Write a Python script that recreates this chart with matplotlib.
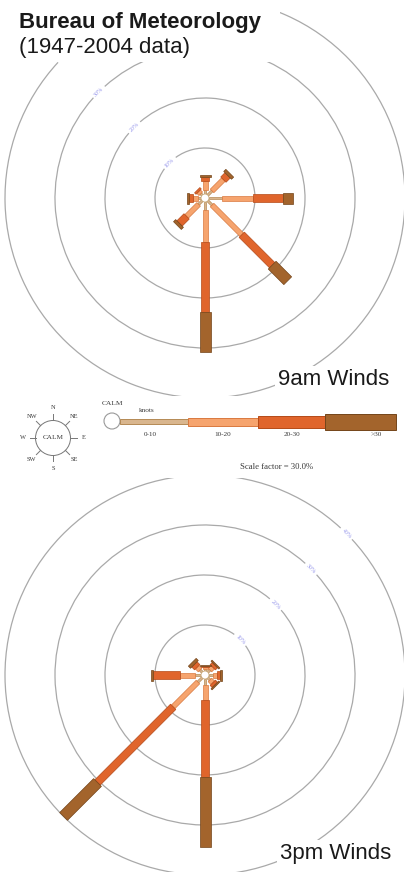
import numpy as np
import matplotlib
matplotlib.use('Agg')
import matplotlib.pyplot as plt
from matplotlib.patches import Polygon, Circle, Arc, Rectangle

# ---------------- data ----------------
directions = ['N', 'NE', 'E', 'SE', 'S', 'SW', 'W', 'NW']
dir_angles = [0, 45, 90, 135, 180, 225, 270, 315]          # compass degrees
speed_classes = ['0-10', '10-20', '20-30', '>30']           # knots

# 9am winds: % of observations per direction and speed class
am_0_10  = [0.8, 1.2, 2.6, 1.2, 1.6, 1.0, 0.6, 0.4]
am_10_20 = [1.8, 3.2, 6.2, 8.4, 6.4, 3.4, 1.0, 0.6]
am_20_30 = [0.8, 1.2, 6.0, 8.6, 14.0, 2.0, 0.8, 0.4]
am_gt30  = [0.4, 0.6, 2.0, 4.4, 8.0, 0.6, 0.4, 0.0]

# 3pm winds
pm_0_10  = [0.4, 0.6, 0.8, 0.6, 1.2, 1.2, 1.2, 0.6]
pm_10_20 = [0.4, 0.8, 0.8, 0.8, 3.0, 7.0, 3.0, 0.8]
pm_20_30 = [0.2, 0.6, 0.6, 0.6, 15.4, 21.4, 5.4, 0.8]
pm_gt30  = [0.2, 0.3, 0.4, 0.3, 14.0, 9.6, 0.4, 0.6]

ring_levels = [10, 20, 30, 40]
ring_labels = ['10%', '20%', '30%', '40%']
scale_text = 'Scale factor = 30.0%'

# ---------------- style ----------------
W_PX, H_PX = 404, 872
PX_PER_PCT = 5.0
fills = ['#d9b68e', '#f6a46e', '#e0652c', '#a3642c']
edges = ['#b58a55', '#d9793f', '#b54a18', '#74451a']
widths_pct = [0.45, 1.0, 1.5, 2.2]
calm_r = 0.8
ring_color = '#a9a9a9'
label_color = '#7b7be6'
txt_color = '#3a3a3a'

fig = plt.figure(figsize=(W_PX / 100, H_PX / 100), dpi=100)
fig.patch.set_facecolor('white')


def px_axes(top_px, bottom_px):
    return fig.add_axes([0, 1 - bottom_px / H_PX, 1, (bottom_px - top_px) / H_PX])


def draw_rose(ax, cx_px, cy_px, top_px, bottom_px, series, label_angle):
    ax.set_xlim(-cx_px / PX_PER_PCT, (W_PX - cx_px) / PX_PER_PCT)
    ax.set_ylim(-(bottom_px - cy_px) / PX_PER_PCT, (cy_px - top_px) / PX_PER_PCT)
    ax.axis('off')
    # rings with label gaps
    for lev, lab in zip(ring_levels, ring_labels):
        gap = np.degrees(8.0 / (lev * PX_PER_PCT))
        ax.add_patch(Arc((0, 0), 2 * lev, 2 * lev, theta1=label_angle + gap,
                         theta2=label_angle + 360 - gap, color=ring_color, lw=0.9))
        a = np.radians(label_angle)
        ax.text(lev * np.cos(a), lev * np.sin(a), lab, color=label_color,
                fontsize=4.2, ha='center', va='center', alpha=0.8,
                rotation=label_angle - 90, family='Liberation Serif')
    # bars
    for i, ang in enumerate(dir_angles):
        t = np.radians(ang)
        u = np.array([np.sin(t), np.cos(t)])
        p = np.array([-u[1], u[0]])
        r0 = calm_r
        for k in range(4):
            val = series[k][i]
            if val <= 0:
                continue
            r1 = r0 + val
            hw = widths_pct[k] / 2
            pts = [u * r0 + p * hw, u * r1 + p * hw, u * r1 - p * hw, u * r0 - p * hw]
            ax.add_patch(Polygon(pts, closed=True, facecolor=fills[k],
                                 edgecolor=edges[k], lw=0.5, zorder=3 + k))
            r0 = r1
    ax.add_patch(Circle((0, 0), calm_r, facecolor='white', edgecolor='#c8a878',
                        lw=0.6, zorder=10))


# top rose (9am)
ax_am = px_axes(0, 396)
draw_rose(ax_am, 205, 198, 0, 396, [am_0_10, am_10_20, am_20_30, am_gt30], 135)

# bottom rose (3pm)
ax_pm = px_axes(478, 872)
draw_rose(ax_pm, 205, 675, 478, 872, [pm_0_10, pm_10_20, pm_20_30, pm_gt30], 45)

# legend strip (pixel coordinates)
ax_lg = px_axes(396, 478)
ax_lg.set_xlim(0, W_PX)
ax_lg.set_ylim(478, 396)
ax_lg.axis('off')

# compass key
ccx, ccy, cr = 53, 438, 17.5
ax_lg.add_patch(Circle((ccx, ccy), cr, facecolor='white', edgecolor='#777777', lw=0.7))
ax_lg.text(ccx, ccy, 'CALM', fontsize=5.2, ha='center', va='center',
           family='Liberation Serif', color=txt_color)
for d, ang in zip(directions, dir_angles):
    t = np.radians(ang)
    sx, sy = np.sin(t), -np.cos(t)
    ax_lg.plot([ccx + sx * cr, ccx + sx * (cr + 6)], [ccy + sy * cr, ccy + sy * (cr + 6)],
               color='#777777', lw=0.7)
    rr = 30.5 if ang % 90 == 0 else 30
    ax_lg.text(ccx + sx * rr, ccy + sy * rr, d, fontsize=4.6, ha='center', va='center',
               family='Liberation Serif', color=txt_color)

# calm circle and speed bar
ax_lg.add_patch(Circle((112, 421), 8, facecolor='white', edgecolor='#999999', lw=0.8))
ax_lg.text(112, 404, 'CALM', fontsize=5.4, ha='center', va='center',
           family='Liberation Serif', color=txt_color)
ax_lg.text(147, 411, 'knots', fontsize=5.2, ha='center', va='center',
           family='Liberation Serif', color=txt_color)
seg_edges_px = [120, 188, 258, 325, 396]
seg_heights_px = [5, 8, 12, 16]
seg_label_x = [150, 223, 292, 376]
for k, lab in enumerate(speed_classes):
    x0, x1 = seg_edges_px[k], seg_edges_px[k + 1]
    h = seg_heights_px[k]
    ax_lg.add_patch(Rectangle((x0, 422 - h / 2), x1 - x0, h, facecolor=fills[k],
                              edgecolor=edges[k], lw=0.7))
    ax_lg.text(seg_label_x[k], 435, lab, fontsize=5.2, ha='center', va='center',
               family='Liberation Serif', color=txt_color)
ax_lg.text(277, 467, scale_text, fontsize=6.2, ha='center', va='center',
           family='Liberation Serif', color=txt_color)

# titles
fig.add_artist(Rectangle((0, 1 - 62 / H_PX), 280 / W_PX, 62 / H_PX,
                         transform=fig.transFigure, facecolor='white',
                         edgecolor='none', zorder=20))
fig.text(19 / W_PX, 1 - 28 / H_PX, 'Bureau of Meteorology', fontsize=16,
         fontweight='bold', family='Liberation Sans', va='baseline', ha='left', zorder=21,
         color='#1a1a1a')
fig.text(19 / W_PX, 1 - 53 / H_PX, '(1947-2004 data)', fontsize=16,
         family='Liberation Sans', va='baseline', ha='left', zorder=21, color='#1a1a1a')
fig.text(389 / W_PX, 1 - 385 / H_PX, '9am Winds', fontsize=16,
         family='Liberation Sans', va='baseline', ha='right', zorder=21, color='#1a1a1a',
         bbox=dict(facecolor='white', edgecolor='none', pad=2))
fig.text(391 / W_PX, 1 - 859 / H_PX, '3pm Winds', fontsize=16,
         family='Liberation Sans', va='baseline', ha='right', zorder=21, color='#1a1a1a',
         bbox=dict(facecolor='white', edgecolor='none', pad=2))

fig.savefig('out.png', dpi=100, facecolor='white')
